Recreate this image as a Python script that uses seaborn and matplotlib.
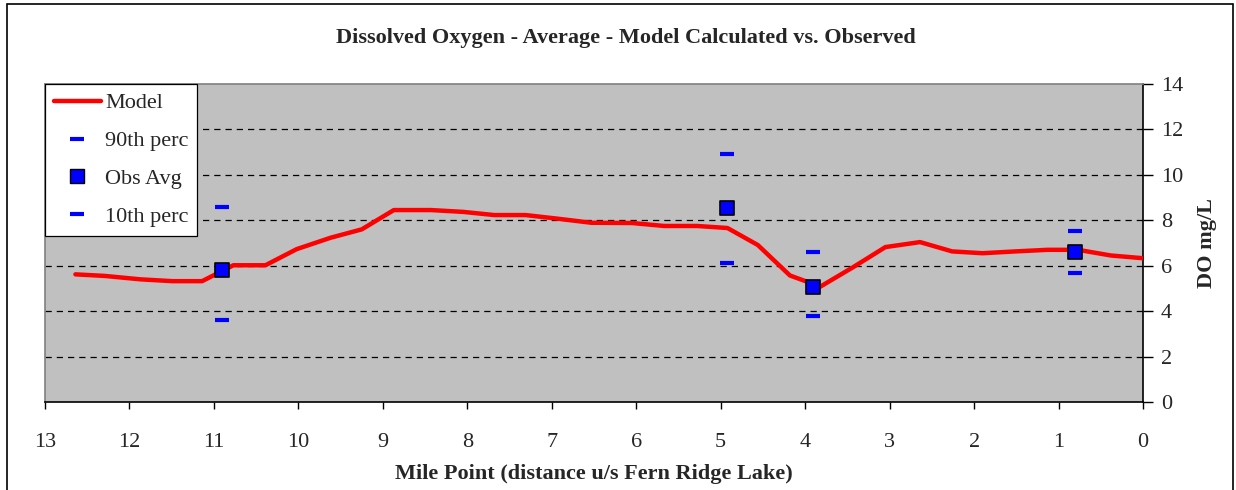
import matplotlib
matplotlib.use("Agg")
import matplotlib.pyplot as plt
from matplotlib.lines import Line2D
from matplotlib.patches import Rectangle
import seaborn as sns
import pandas as pd

# model profile (mile point, DO mg/L)
model_mile = [12.64, 12.29, 11.87, 11.49, 11.14, 10.77, 10.39, 10.02, 9.62, 9.25,
              8.87, 8.43, 8.05, 7.68, 7.31, 6.93, 6.53, 6.05, 5.67, 5.28,
              4.92, 4.56, 4.18, 3.82, 3.43, 3.05, 2.64, 2.26, 1.90, 1.51,
              1.13, 0.77, 0.38, 0.0]
model_do = [5.62, 5.55, 5.40, 5.32, 5.32, 6.02, 6.02, 6.73, 7.23, 7.60,
            8.45, 8.45, 8.37, 8.23, 8.23, 8.07, 7.89, 7.88, 7.75, 7.75,
            7.66, 6.91, 5.57, 5.08, 5.94, 6.82, 7.04, 6.63, 6.55, 6.63,
            6.70, 6.70, 6.45, 6.33]

# observed stations
obs_mile = [10.91, 4.92, 3.91, 0.81]
obs_avg = [5.82, 8.56, 5.05, 6.60]
obs_p90 = [8.57, 10.9, 6.60, 7.53]
obs_p10 = [3.63, 6.13, 3.77, 5.66]

model = pd.DataFrame({"mile": model_mile, "do": model_do})
obs = pd.DataFrame({"mile": obs_mile, "avg": obs_avg, "p90": obs_p90, "p10": obs_p10})

sns.set_style("white")
plt.rcParams["font.family"] = ["Liberation Serif", "DejaVu Serif"]

fig = plt.figure(figsize=(12.36, 4.90), dpi=100)
ax = fig.add_axes([45 / 1236, 1 - 402 / 490, (1143 - 45) / 1236, (402 - 84) / 490])
ax.set_facecolor("#C0C0C0")

sns.lineplot(data=model, x="mile", y="do", ax=ax, color="#FF0000", linewidth=3.2,
             legend=False, zorder=3)
sns.scatterplot(data=obs, x="mile", y="p90", ax=ax, marker="_", color="#0000FF",
                s=100, linewidth=3, legend=False, zorder=4)
sns.scatterplot(data=obs, x="mile", y="p10", ax=ax, marker="_", color="#0000FF",
                s=100, linewidth=3, legend=False, zorder=4)
sns.scatterplot(data=obs, x="mile", y="avg", ax=ax, marker="s", color="#0000FF",
                edgecolor="black", linewidth=1.2, s=100, legend=False, zorder=5)

ax.set_xlim(13, 0)
ax.set_ylim(0, 14)
ax.set_xticks(range(13, -1, -1))
ax.set_yticks(range(0, 15, 2))
ax.yaxis.tick_right()
ax.yaxis.set_label_position("right")
ax.tick_params(axis="x", direction="out", length=5, width=1, pad=17, labelsize=16,
               bottom=True, color="black")
ax.tick_params(axis="y", direction="out", length=7, width=1, pad=6, labelsize=16,
               right=True, left=False, color="black")

for y in range(2, 14, 2):
    ax.axhline(y, color="black", linestyle=(0, (5, 4)), linewidth=0.9, zorder=1)

ax.spines["left"].set_color("#808080")
ax.spines["top"].set_color("#808080")
ax.spines["right"].set_color("black")
ax.spines["bottom"].set_color("black")
for s in ax.spines.values():
    s.set_linewidth(1.2)

ax.set_xlabel("Mile Point (distance u/s Fern Ridge Lake)", fontsize=16,
              fontweight="bold", labelpad=9)
ax.set_ylabel("DO mg/L", fontsize=16, fontweight="bold", labelpad=10)
fig.text(0.506, 1 - 38 / 490, "Dissolved Oxygen - Average - Model Calculated vs. Observed",
         ha="center", va="center", fontsize=16, fontweight="bold")

handles = [
    Line2D([], [], color="#FF0000", linewidth=3.2),
    Line2D([], [], linestyle="", marker="_", color="#0000FF", markersize=10, markeredgewidth=3),
    Line2D([], [], linestyle="", marker="s", markerfacecolor="#0000FF",
           markeredgecolor="black", markersize=10),
    Line2D([], [], linestyle="", marker="_", color="#0000FF", markersize=10, markeredgewidth=3),
]
labels = ["Model", "90th perc", "Obs Avg", "10th perc"]
leg = ax.legend(handles, labels, loc="upper left", bbox_to_anchor=(0, 1),
                borderaxespad=0, fontsize=16, frameon=True, fancybox=False,
                framealpha=1, edgecolor="black", handlelength=2.1,
                labelspacing=0.78, borderpad=0.4, handletextpad=0.2)
leg.get_frame().set_linewidth(0.9)
leg.set_zorder(10)

fig.patches.append(Rectangle((7 / 1236, -0.05), (1233 - 7) / 1236, 1.05 - 4.5 / 490,
                             transform=fig.transFigure, fill=False,
                             edgecolor="black", linewidth=1.2))

fig.savefig("out.png", dpi=100)
